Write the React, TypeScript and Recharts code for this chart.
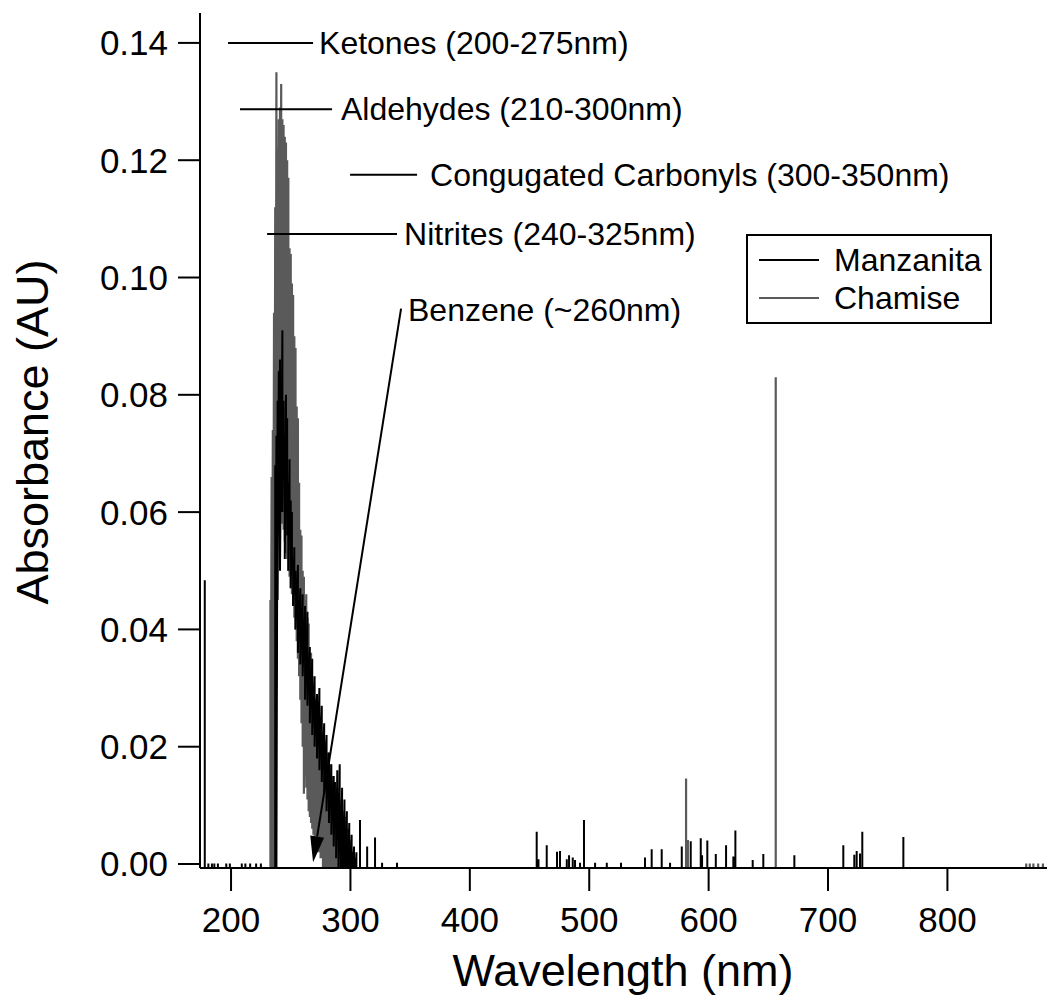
import React from 'react';
import {
  LineChart,
  Line,
  XAxis,
  YAxis,
  Label,
  Legend,
  ReferenceLine,
  ReferenceDot,
} from 'recharts';

const FONT = '"Liberation Sans", Arial, Helvetica, sans-serif';
const MANZ_COLOR = '#000000';
const CHAM_COLOR = '#5a5a5a';

const xTicks = [200, 300, 400, 500, 600, 700, 800];
const yTicks = [0, 0.02, 0.04, 0.06, 0.08, 0.1, 0.12, 0.14];

// Manzanita: dense UV band, one sample per nm (upper and lower swing of the noisy trace)
const manzBandNm = [
  237, 238, 239, 240, 241, 242, 243, 244, 245, 246, 247, 248, 249, 250, 251, 252, 253,
  254, 255, 256, 257, 258, 259, 260, 261, 262, 263, 264, 265, 266, 267, 268, 269, 270,
  271, 272, 273, 274, 275, 276, 277, 278, 279, 280, 281, 282, 283, 284, 285, 286, 287,
  288, 289, 290, 291, 292, 293, 294, 295, 296, 297, 298, 299, 300, 301, 302, 303, 304, 305,
];
const manzBandHi = [
  0.068, 0.073, 0.079, 0.084, 0.086, 0.074, 0.091, 0.079, 0.073, 0.08, 0.076, 0.065, 0.069,
  0.062, 0.06, 0.052, 0.054, 0.05, 0.047, 0.051, 0.045, 0.047, 0.043, 0.046, 0.041, 0.044,
  0.038, 0.043, 0.035, 0.037, 0.033, 0.035, 0.03, 0.032, 0.028, 0.029, 0.026, 0.03, 0.024,
  0.027, 0.022, 0.024, 0.02, 0.022, 0.017, 0.019, 0.015, 0.017, 0.013, 0.015, 0.014, 0.012,
  0.016, 0.012, 0.017, 0.01, 0.013, 0.008, 0.011, 0.006, 0.009, 0.004, 0.007, 0.003, 0.005,
  0.002, 0.003, 0.001, 0.002,
];
const manzBandLo = [
  -0.002, -0.002, 0.045, 0.062, 0.05, 0.062, 0.06, 0.066, 0.052, 0.06, 0.056, 0.05, 0.058,
  0.047, 0.052, 0.044, 0.046, 0.04, 0.042, 0.036, 0.04, 0.034, 0.038, 0.032, 0.035, 0.028,
  0.033, 0.027, 0.03, 0.024, 0.028, 0.022, 0.026, 0.02, 0.024, 0.018, 0.022, 0.016, 0.02,
  0.014, 0.018, 0.012, 0.015, 0.009, 0.012, 0.007, 0.01, 0.005, 0.008, 0.003, 0.006, 0.001,
  0.004, -0.002, 0.002, -0.002, -0.002, -0.002, -0.002, -0.002, -0.002, -0.002, -0.002,
  -0.002, -0.002, -0.002, -0.002, -0.002, -0.002,
];

// Manzanita: isolated lines
const manzLineNm = [
  178, 181, 184, 186, 189, 196, 199, 209, 212, 216, 221, 225, 308, 314, 320.6, 326.5, 339,
  456, 457.5, 464.4, 473, 475.5, 481.2, 483.1, 486.2, 488.1, 492.3, 495.6, 504.9, 514.7,
  526.6, 546.7, 552.3, 560.7, 567.7, 577.5, 585, 593.4, 594.5, 598.9, 606, 614.6, 620.7,
  622.4, 636.9, 645.8, 671.8, 712.8, 722, 724, 726.8, 728.7, 763.1,
];
const manzLineAbs = [
  0.0484, 0.0001, 0.0001, 0.0001, 0.0001, 0.0001, 0.0001, 0.0001, 0.0001, 0.0001, 0.0001,
  0.0001, 0.0075, 0.003, 0.0045, 0.0002, 0.0002, 0.0055, 0.0008, 0.0032, 0.0021, 0.0022,
  0.0008, 0.0015, 0.0011, 0.0007, 0.0002, 0.0075, 0.0002, 0.0002, 0.0002, 0.0011, 0.0025,
  0.0025, 0.0002, 0.003, 0.0039, 0.0044, 0.0015, 0.004, 0.0017, 0.0032, 0.0013, 0.0057,
  0.0007, 0.0017, 0.0015, 0.0032, 0.0016, 0.0022, 0.0018, 0.0055, 0.0046,
];

// Chamise: dense UV band
const chamBandNm = [
  233, 234, 235, 236, 237, 238, 239, 240, 241, 242, 243, 244, 245, 246, 247, 248, 249,
  250, 251, 252, 253, 254, 255, 256, 257, 258, 259, 260, 261, 262, 263, 264, 265, 266,
  267, 268, 269, 270, 271, 272, 273, 274, 275, 276, 277, 278, 279, 280, 281, 282, 283,
  284, 285, 286, 287, 288, 289, 290, 291, 292, 293, 294, 295, 296, 297, 298, 299, 300, 301,
];
const chamBandHi = [
  0.045, 0.066, 0.074, 0.094, 0.112, 0.135, 0.122, 0.127, 0.129, 0.133, 0.127, 0.126, 0.124,
  0.123, 0.12, 0.117, 0.105, 0.104, 0.099, 0.097, 0.09, 0.088, 0.078, 0.076, 0.065, 0.057,
  0.056, 0.05, 0.049, 0.045, 0.046, 0.042, 0.041, 0.036, 0.036, 0.032, 0.031, 0.028, 0.028,
  0.025, 0.026, 0.023, 0.024, 0.021, 0.022, 0.02, 0.021, 0.018, 0.019, 0.016, 0.017, 0.014,
  0.015, 0.013, 0.014, 0.012, 0.013, 0.012, 0.01, 0.011, 0.009, 0.009, 0.007, 0.008, 0.006,
  0.006, 0.004, 0.004, 0.002,
];
const chamBandLo = [
  -0.002, -0.002, -0.002, -0.002, 0.004, 0.03, 0.056, 0.06, 0.062, 0.06, 0.058, 0.057, 0.055,
  0.053, 0.052, 0.05, 0.049, 0.047, 0.046, 0.044, 0.042, 0.04, 0.038, 0.035, 0.032, 0.028,
  0.024, 0.02, 0.012, 0.015, 0.013, 0.011, 0.009, 0.008, 0.007, 0.006, 0.005, 0.004, 0.004,
  0.003, 0.002, 0.002, 0.001, 0.001, -0.002, -0.002, -0.002, -0.002, -0.002, -0.002, -0.002,
  -0.002, -0.002, -0.002, -0.002, -0.002, -0.002, -0.002, -0.002, -0.002, -0.002, -0.002,
  -0.002, -0.002, -0.002, -0.002, -0.002, -0.002, -0.002,
];

// Chamise: isolated lines
const chamLineNm = [581.1, 582.6, 656.2, 866, 869, 872, 876, 880];
const chamLineAbs = [0.0146, 0.0041, 0.083, 0.0001, 0.0001, 0.0001, 0.0001, 0.0001];

// trace level between the lines (sits just under the axis, so it is clipped)
const baseline = -0.002;

const legendItems = [
  { name: 'Manzanita', color: MANZ_COLOR },
  { name: 'Chamise', color: CHAM_COLOR },
];

// annotation bars, in data units
const notes = [
  { text: 'Ketones (200-275nm)', from: 197.5, to: 268.7, at: 0.14, textAt: 273.7 },
  { text: 'Aldehydes (210-300nm)', from: 207.5, to: 284.6, at: 0.1287, textAt: 292.1 },
  { text: 'Congugated Carbonyls (300-350nm)', from: 299.7, to: 355.8, at: 0.1175, textAt: 366.7 },
  { text: 'Nitrites (240-325nm)', from: 230.2, to: 339.0, at: 0.1074, textAt: 344.9 },
];
const benzene = {
  text: 'Benzene (~260nm)',
  tail: { x: 342.4, y: 0.0947 },
  head: { x: 268.7, y: 0.0003 },
  label: { x: 348.2, y: 0.0945 },
};

type Pt = { nm: number; abs: number };

function traceOf(
  bandNm: number[],
  hi: number[],
  lo: number[],
  lineNm: number[],
  lineAbs: number[],
): Pt[] {
  const band: Pt[] = [{ nm: bandNm[0], abs: baseline }];
  bandNm.forEach((nm, i) => band.push({ nm, abs: hi[i] }, { nm, abs: lo[i] }));
  band.push({ nm: bandNm[bandNm.length - 1], abs: baseline });
  const lines: Pt[] = [];
  lineNm.forEach((nm, i) =>
    lines.push({ nm, abs: baseline }, { nm, abs: lineAbs[i] }, { nm, abs: baseline }),
  );
  return [...band, ...lines].sort((a, b) => a.nm - b.nm);
}

const manzTrace = traceOf(manzBandNm, manzBandHi, manzBandLo, manzLineNm, manzLineAbs);
const chamTrace = traceOf(chamBandNm, chamBandHi, chamBandLo, chamLineNm, chamLineAbs);

const axisStroke = { stroke: '#000', strokeWidth: 2 };
const tickFont = { fill: '#000', fontSize: 35, fontFamily: FONT };

function NoteText(text: string) {
  return (p: any) => (
    <text
      x={p.cx}
      y={p.cy}
      dominantBaseline="central"
      fontSize={32}
      fontFamily={FONT}
      fill="#000"
    >
      {text}
    </text>
  );
}

function Arrow(p: any) {
  const { x1, y1, x2, y2 } = p;
  const len = Math.hypot(x2 - x1, y2 - y1);
  const ux = (x2 - x1) / len;
  const uy = (y2 - y1) / len;
  const head = 26;
  const half = 7;
  const bx = x2 - ux * head;
  const by = y2 - uy * head;
  return (
    <g>
      <line x1={x1} y1={y1} x2={bx} y2={by} stroke="#000" strokeWidth={2} />
      <polygon
        points={`${x2},${y2} ${bx - uy * half},${by + ux * half} ${bx + uy * half},${by - ux * half}`}
        fill="#000"
      />
    </g>
  );
}

function LegendBox() {
  return (
    <div
      style={{
        boxSizing: 'border-box',
        width: 246,
        height: 90,
        border: '2px solid #000',
        background: '#fff',
        paddingTop: 5,
        fontFamily: FONT,
        fontSize: 32,
        color: '#000',
      }}
    >
      {legendItems.map((it) => (
        <div key={it.name} style={{ display: 'flex', alignItems: 'center', height: 38 }}>
          <span
            style={{ display: 'inline-block', width: 60, height: 2, marginLeft: 11, background: it.color }}
          />
          <span style={{ marginLeft: 15, lineHeight: '38px' }}>{it.name}</span>
        </div>
      ))}
    </div>
  );
}

export default function App(): React.JSX.Element {
  return (
    <div style={{ position: 'absolute', left: 0, top: 0, width: 1047, height: 1002, background: '#fff' }}>
      <LineChart width={1047} height={1002} margin={{ top: 13, right: 0, bottom: 0, left: 0 }}>
        <XAxis
          dataKey="nm"
          type="number"
          domain={[174, 883.4]}
          allowDataOverflow
          ticks={xTicks}
          interval={0}
          height={134}
          axisLine={axisStroke}
          tickLine={axisStroke}
          tickSize={23}
          tickMargin={16}
          tick={tickFont}
        >
          <Label
            content={() => (
              <text x={623} y={986} textAnchor="middle" fontSize={45} fontFamily={FONT} fill="#000">
                Wavelength (nm)
              </text>
            )}
          />
        </XAxis>
        <YAxis
          type="number"
          domain={[-0.00068, 0.1451]}
          allowDataOverflow
          ticks={yTicks}
          interval={0}
          width={200}
          axisLine={axisStroke}
          tickLine={axisStroke}
          tickSize={22}
          tickMargin={10}
          tick={tickFont}
          tickFormatter={(v: number) => v.toFixed(2)}
        >
          <Label
            content={() => (
              <text
                x={0}
                y={0}
                transform="translate(48 432) rotate(-90)"
                textAnchor="middle"
                fontSize={45}
                fontFamily={FONT}
                fill="#000"
              >
                Absorbance (AU)
              </text>
            )}
          />
        </YAxis>

        <Line
          data={chamTrace}
          dataKey="abs"
          name="Chamise"
          type="linear"
          stroke={CHAM_COLOR}
          strokeWidth={2.2}
          dot={false}
          activeDot={false}
          isAnimationActive={false}
        />
        <Line
          data={manzTrace}
          dataKey="abs"
          name="Manzanita"
          type="linear"
          stroke={MANZ_COLOR}
          strokeWidth={2}
          dot={false}
          activeDot={false}
          isAnimationActive={false}
        />

        {notes.map((n) => (
          <ReferenceLine
            key={n.text + '-bar'}
            segment={[
              { x: n.from, y: n.at },
              { x: n.to, y: n.at },
            ]}
            stroke="#000"
            strokeWidth={2}
          />
        ))}
        {notes.map((n) => (
          <ReferenceDot key={n.text} x={n.textAt} y={n.at} r={0} shape={NoteText(n.text)} />
        ))}
        <ReferenceLine segment={[benzene.tail, benzene.head]} shape={Arrow} />
        <ReferenceDot x={benzene.label.x} y={benzene.label.y} r={0} shape={NoteText(benzene.text)} />

        <Legend
          layout="vertical"
          align="center"
          verticalAlign="middle"
          wrapperStyle={{ left: 746, top: 234, width: 246, height: 90 }}
          content={() => <LegendBox />}
        />
      </LineChart>
    </div>
  );
}
